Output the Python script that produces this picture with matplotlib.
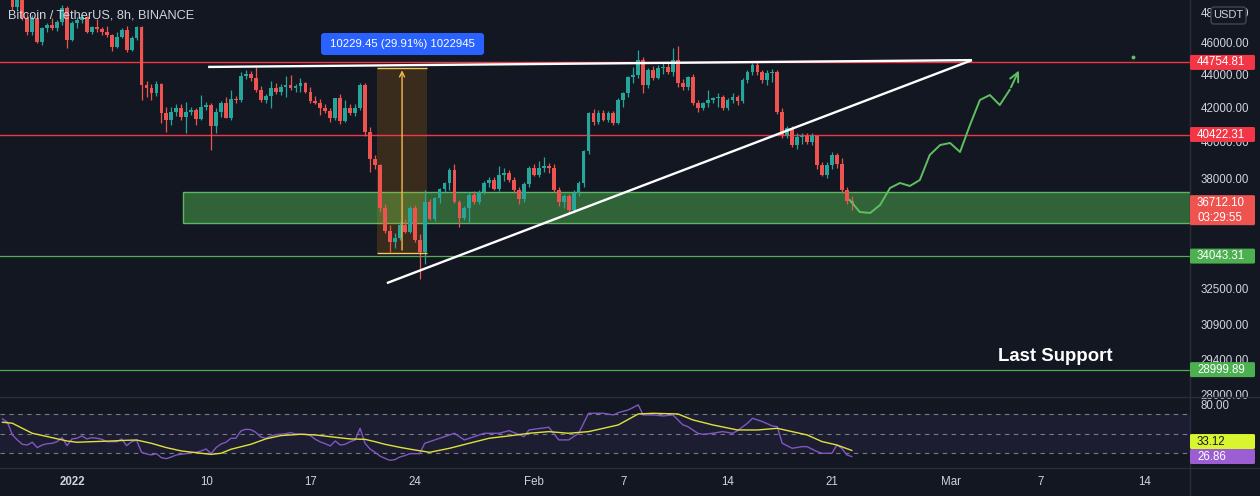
import matplotlib
matplotlib.use('Agg')
import matplotlib.pyplot as plt
from matplotlib.patches import Rectangle, FancyBboxPatch
from matplotlib.transforms import IdentityTransform
from matplotlib.ticker import NullLocator
import numpy as np

plt.rcParams['font.family'] = ['Liberation Sans', 'DejaVu Sans']

# ---- data: 8h candles, bar 0 = 2022-01-01 00:00 ----
first_bar = -14
opens = [50800, 51050, 50650, 48400, 49000, 47660, 46700, 47680, 46070, 47000, 47200, 47000, 47400, 48350,
         46200, 47330, 47530, 47700, 46720, 47070, 46900, 46700, 46530, 45750, 46400, 46860, 45550, 46350,
         47050, 43350, 43150, 42850, 43400, 41670, 41270, 41700, 41960, 41450, 41750, 41850, 41330, 42030,
         42120, 40920, 41750, 42260, 41400, 42500, 42420, 43880, 44050, 43800, 43050, 42420, 42670, 43180,
         42950, 43250, 43380, 43180, 43300, 43450, 42920, 42380, 42250, 41950, 41780, 41380, 42580, 41200,
         41980, 41650, 41980, 43330, 40580, 39050, 38700, 36450, 35250, 34730, 34930, 35580, 35230, 36430,
         34850, 34250, 36750, 35870, 36930, 37450, 37720, 38420, 36750, 35930, 36430, 37110, 36740, 37290,
         37740, 37890, 37440, 38150, 38270, 37890, 37380, 36900, 37700, 38530, 38150, 38580, 38680, 38550,
         37380, 36750, 37050, 36340, 37240, 37750, 39500, 41640, 41160, 41650, 41260, 41650, 41100, 42440,
         42850, 43820, 43960, 44910, 43350, 44280, 43780, 44400, 44480, 44180, 44910, 43480, 43230, 43840,
         42260, 41960, 42250, 42440, 42560, 42610, 41960, 42440, 42640, 42360, 43650, 44150, 44590, 44150,
         43650, 44100, 44160, 41700, 40400, 40800, 39830, 40280, 40360, 40010, 40360, 38720, 38180, 38720,
         39250, 38780, 37400, 36800]
highs = [51400, 51200, 50800, 49300, 49100, 47900, 47860, 47730, 47070, 47300, 47660, 47550, 48550, 48450,
         47450, 47700, 47950, 47800, 47150, 47600, 47050, 47100, 46600, 46700, 47000, 47100, 46450, 47150,
         47100, 43600, 43400, 43600, 43500, 42000, 42000, 42200, 42200, 42300, 42050, 41950, 42750, 42300,
         42250, 41950, 42400, 42600, 43050, 42700, 44150, 44300, 44200, 44450, 43300, 42800, 43600, 43500,
         43400, 43900, 43950, 43400, 43800, 43550, 43200, 42700, 42500, 42200, 41950, 42500, 42800, 42450,
         42200, 42200, 43500, 43500, 40850, 39250, 38800, 36650, 35550, 35150, 35750, 35850, 36550, 36600,
         35100, 37400, 36900, 37000, 37500, 37800, 38550, 38800, 36850, 36550, 37250, 37300, 37350, 37850,
         38050, 38050, 38650, 38550, 38450, 38050, 37550, 37800, 38650, 38750, 38950, 39150, 38850, 38750,
         37550, 37150, 37150, 37350, 37850, 39550, 41700, 41900, 41850, 41850, 41800, 41800, 42550, 42950,
         43900, 44450, 45550, 45100, 44400, 44500, 44600, 44700, 44700, 45700, 45820, 43700, 43900, 44000,
         42450, 42350, 43050, 42650, 42850, 42750, 42550, 42850, 42750, 43750, 44250, 44700, 44750, 44250,
         44250, 44350, 44250, 41950, 40900, 40900, 40500, 40500, 40500, 40500, 40400, 38900, 38900, 39450,
         39400, 39100, 37550, 37050]
lows = [50300, 50400, 48200, 48100, 47500, 46500, 46530, 46000, 45870, 46700, 46850, 46800, 47200, 45680,
        46100, 47000, 47300, 46650, 46600, 46700, 46500, 46400, 45500, 45650, 46300, 45400, 45500, 46200,
        42450, 42600, 42450, 42700, 41100, 40580, 40980, 41500, 41250, 40520, 41550, 40950, 41250, 41850,
        39550, 40500, 41450, 41350, 41250, 42250, 42350, 43700, 43600, 42950, 42300, 42250, 41950, 42800,
        42750, 42650, 43050, 42950, 42900, 42850, 42250, 42200, 41550, 41650, 41150, 41250, 41050, 41150,
        41550, 41500, 41850, 40350, 38350, 38500, 36250, 35150, 34250, 34450, 34850, 35150, 35150, 34750,
        32950, 33650, 35800, 35780, 36700, 37250, 37350, 36700, 35450, 35800, 35650, 36650, 36650, 37150,
        37550, 37350, 37300, 37850, 37800, 37250, 36650, 36750, 37550, 38100, 38050, 38350, 38300, 37250,
        36550, 36450, 36150, 36200, 37050, 37550, 39350, 40950, 41050, 41200, 41150, 40950, 41000, 42050,
        42650, 43500, 43750, 42850, 43150, 43650, 43700, 44000, 44000, 43900, 43250, 43050, 43050, 42150,
        41750, 41850, 42050, 42250, 42050, 41850, 41850, 42250, 42150, 42250, 43450, 43950, 43950, 43450,
        43350, 43550, 41600, 40200, 40200, 39700, 39600, 39900, 39900, 39800, 38500, 38100, 38000, 38500,
        38550, 37200, 36650, 36350]
closes = [51050, 50650, 48400, 49000, 47660, 46700, 47680, 46070, 47000, 47200, 47000, 47400, 48350, 46200,
          47330, 47530, 47700, 46720, 47070, 46900, 46700, 46530, 45750, 46400, 46860, 45550, 46350, 47050,
          43350, 43150, 42850, 43400, 41670, 41270, 41700, 41960, 41450, 41750, 41850, 41330, 42030, 42120,
          40920, 41750, 42260, 41400, 42500, 42420, 43880, 44050, 43800, 43050, 42420, 42670, 43180, 42950,
          43250, 43380, 43180, 43300, 43450, 42920, 42380, 42250, 41950, 41780, 41380, 42580, 41200, 41980,
          41650, 41980, 43330, 40580, 39050, 38700, 36450, 35250, 34730, 34930, 35580, 35230, 36430, 34850,
          34250, 36750, 35870, 36930, 37450, 37720, 38420, 36750, 35930, 36430, 37110, 36740, 37290, 37740,
          37890, 37440, 38150, 38270, 37890, 37380, 36900, 37700, 38530, 38150, 38580, 38680, 38550, 37380,
          36750, 37050, 36340, 37240, 37750, 39500, 41640, 41160, 41650, 41260, 41650, 41100, 42440, 42850,
          43820, 43960, 44910, 43350, 44280, 43780, 44400, 44480, 44180, 44910, 43480, 43230, 43840, 42260,
          41960, 42250, 42440, 42560, 42610, 41960, 42440, 42640, 42360, 43650, 44150, 44590, 44150, 43650,
          44100, 44160, 41700, 40400, 40800, 39830, 40280, 40360, 40010, 40360, 38720, 38180, 38720, 39250,
          38780, 37400, 36800, 36712.10]

# RSI(14) and its moving average, read at bar positions
rsi_bar = [-14, -13, -12, -11, -10, -9, -8, -7, -6, -5, -4, -3, -2, -1, 0, 1, 2, 3, 4, 5, 6, 7, 8, 9, 10,
           11, 12, 13, 14, 15, 16, 17, 18, 19, 20, 21, 22, 23, 24, 25, 26, 27, 28, 29, 30, 31, 32, 33, 34,
           35, 36, 37, 38, 39, 40, 41, 42, 43, 44, 45, 46, 47, 48, 49, 50, 51, 52, 53, 54, 55, 56, 57, 58,
           59, 60, 61, 62, 63, 64, 65, 66, 67, 68, 69, 70, 71, 72, 74, 77, 79, 81, 83, 86, 88, 91, 92, 96,
           98, 100, 102, 104, 107, 109, 110, 112, 114, 115, 117, 119, 121, 123, 124, 126, 127, 129, 131,
           133, 134, 136, 137, 139, 141, 142, 143, 145, 147, 148, 150, 151, 153, 154, 155, 156, 157]
rsi_val = [65.4, 62.0, 49.0, 43.8, 39.4, 38.7, 41.5, 36.0, 38.7, 40.0, 40.4, 42.1, 46.2, 38.0, 44.9, 45.6,
           48.0, 44.9, 46.2, 45.6, 44.5, 42.1, 42.1, 42.1, 44.9, 38.0, 42.1, 43.5, 31.2, 29.5, 28.5, 29.8,
           25.7, 24.7, 26.4, 28.5, 29.1, 29.8, 30.9, 31.2, 32.6, 34.6, 29.8, 36.0, 39.7, 41.5, 45.6, 45.6,
           53.1, 54.8, 54.4, 51.7, 46.9, 45.6, 47.6, 49.3, 49.7, 50.3, 51.4, 50.0, 49.7, 49.7, 48.3, 44.5,
           41.8, 40.0, 37.7, 42.8, 38.7, 39.4, 42.1, 43.8, 55.8, 40.4, 34.6, 31.2, 27.4, 25.0, 23.0, 23.7,
           26.4, 27.8, 29.8, 29.8, 29.8, 40.4, 42.1, 45.6, 50.7, 43.9, 47.3, 50.7, 50.7, 53.4, 47.3, 54.1,
           56.9, 43.9, 43.9, 50.7, 71.2, 71.2, 69.5, 71.9, 74.6, 79.8, 69.5, 69.5, 68.5, 69.5, 59.3, 57.5,
           50.7, 49.7, 50.7, 52.4, 50.7, 53.4, 61.0, 66.1, 62.7, 58.2, 57.5, 40.5, 35.3, 37.0, 37.0, 31.9,
           30.2, 30.2, 38.7, 35.3, 28.5, 26.86]
ma_bar = [-14, -12, -10, -8, -4, -1, 1, 4, 8, 11, 13, 16, 19, 22, 26, 28, 30, 32, 36, 39, 42, 46, 49, 53,
          56, 59, 61, 63, 66, 69, 72, 76, 80, 84, 88, 92, 96, 100, 104, 107, 110, 114, 117, 122, 125, 129,
          134, 138, 142, 145, 148, 151, 154, 157]
ma_val = [62.0, 61.0, 55.8, 50.7, 46.2, 42.8, 41.5, 42.1, 42.8, 43.5, 43.8, 40.4, 36.0, 32.6, 30.2, 29.1,
          30.2, 34.3, 39.4, 44.9, 48.3, 49.7, 49.0, 46.6, 44.9, 44.5, 42.1, 39.4, 36.3, 33.6, 31.2, 35.3,
          40.5, 45.6, 48.0, 50.7, 52.4, 50.7, 52.4, 55.8, 59.3, 70.5, 71.2, 70.5, 64.4, 59.3, 54.1, 54.1,
          55.8, 52.4, 49.0, 42.2, 38.7, 33.12]

# drawings
red_levels = [44754.81, 40422.31]
green_levels = [34043.31, 28999.89]
zone_start, zone_lo, zone_hi = 22.3, 35690, 37290
trend_top = ([27.4, 181.2], [44470, 44900])
trend_rise = ([63.4, 181.2], [32770, 44900])
range_bars, range_lo, range_hi = (61.4, 71.5), 34200, 44430
path_bar = [156.6, 158.6, 160.7, 162.7, 164.7, 166.7, 168.7, 170.7, 172.7, 174.8, 176.8, 178.8, 180.8,
            182.8, 184.8, 186.8, 188.8, 190.9]
path_px = [36851, 36233, 36182, 36592, 37481, 37747, 37588, 37907, 39270, 39828, 39941, 39437, 40969,
           42442, 42742, 42143, 43054, 44404]
stray_mark = (213.6, 45100)

tick_bars = [0, 27, 48, 69, 93, 111, 132, 153, 177, 195, 216]
tick_text = ['2022', '10', '17', '24', 'Feb', '7', '14', '21', 'Mar', '7', '14']
price_ticks = [28000, 29400, 30900, 32500, 38000, 40000, 42000, 44000, 46000, 48000]

BG = '#131722'
UP, DN = '#26a69a', '#ef5350'
RED, GREEN = '#f23645', '#4caf50'
TXT = '#d1d4dc'
GRIDC = '#2a2e39'

W, H = 1260, 496
fig = plt.figure(figsize=(W / 100, H / 100), dpi=100, facecolor=BG)
ax = fig.add_axes([0, (H - 397) / H, 1190 / W, 397 / H], facecolor=BG)
rx = fig.add_axes([0, (H - 468) / H, 1190 / W, 71 / H], facecolor=BG, sharex=ax)

bars = np.arange(first_bar, first_bar + len(closes))
o, hi, lo, c = map(np.array, (opens, highs, lows, closes))
col = np.where(c >= o, UP, DN)

ax.set_yscale('log')
ax.set_ylim(27900, 48880)
ax.set_xlim(-14.5, 225.1)

ax.add_patch(Rectangle((zone_start, zone_lo), 400, zone_hi - zone_lo, facecolor=(0.30, 0.69, 0.31, 0.5),
                       edgecolor='#5cb860', lw=1, zorder=1))
ax.add_patch(Rectangle((range_bars[0], range_lo), range_bars[1] - range_bars[0], range_hi - range_lo,
                       facecolor='#ff9800', alpha=0.17, lw=0, zorder=1))
for v in red_levels:
    ax.axhline(v, color=RED, lw=1, zorder=2)
for v in green_levels:
    ax.axhline(v, color=GREEN, lw=0.9, zorder=2)

ax.vlines(bars, lo, hi, colors=col, lw=0.9, zorder=3)
ax.bar(bars, np.abs(c - o), bottom=np.minimum(o, c), width=0.76, color=col, lw=0, zorder=3)

ax.plot(trend_top[0], trend_top[1], color='white', lw=1.7, zorder=4, solid_capstyle='butt')
ax.plot(trend_rise[0], trend_rise[1], color='white', lw=1.7, zorder=4, solid_capstyle='butt')

mid = sum(range_bars) / 2
ax.hlines([range_lo, range_hi], range_bars[0], range_bars[1], color='#f7c65c', lw=1, zorder=4)
ax.annotate('', xy=(mid, range_hi), xytext=(mid, range_lo),
            arrowprops=dict(arrowstyle='->', color='#f7b84b', lw=1, mutation_scale=9), zorder=4)

ax.plot(path_bar[:-1], path_px[:-1], color='#5fbf61', lw=1.4, zorder=4)
ax.annotate('', xy=(path_bar[-1], path_px[-1]), xytext=(path_bar[-2], path_px[-2]),
            arrowprops=dict(arrowstyle='->', color='#5fbf61', lw=1.4, mutation_scale=16), zorder=4)
ax.plot(*stray_mark, marker='o', ms=1.8, color='#5fbf61', zorder=4)

ax.text(186.4, 29522, 'Last Support', color='white', fontsize=13.4, fontweight='bold',
        ha='left', va='center', zorder=5)

# RSI pane
rx.set_ylim(15.1, 87.9)
rx.fill_between([-14.5, 225.1], 30, 70, color='#7e57c2', alpha=0.1, lw=0)
for lv in (70, 50, 30):
    rx.axhline(lv, color='#787b86', lw=0.8, ls=(0, (4, 4)))
rx.plot(rsi_bar, rsi_val, color='#7e57c2', lw=1)
rx.plot(ma_bar, ma_val, color='#dfe23a', lw=1)

for a in (ax, rx):
    for s in a.spines.values():
        s.set_visible(False)
    a.yaxis.tick_right()
    a.tick_params(axis='y', length=0, pad=7.5, labelsize=8.3, labelcolor=TXT)
    a.yaxis.set_minor_locator(NullLocator())
ax.set_yticks(price_ticks)
ax.set_yticklabels([f'{v:.2f}' for v in price_ticks])
ax.tick_params(axis='x', bottom=False, labelbottom=False)
rx.set_yticks([80])
rx.set_yticklabels(['80.00'])
rx.set_xticks(tick_bars)
rx.set_xticklabels(tick_text)
rx.tick_params(axis='x', length=0, pad=6, labelsize=8.3, labelcolor=TXT)
rx.get_xticklabels()[0].set_fontweight('bold')

ident = IdentityTransform()

def box(x0, y0, w, h, fc, ec='none', r=2):
    fig.patches.append(FancyBboxPatch((x0, y0), w, h, boxstyle=f'round,pad=0,rounding_size={r}',
                                      fc=fc, ec=ec, lw=1, transform=ident, zorder=10))

def tag(a, val, lines, fc, fg='white', shift=0):
    y = a.transData.transform((0, val))[1] + shift
    h = 15 * len(lines)
    box(1190, y + 7.5 - h, 65, h, fc, r=1.5)
    for i, t in enumerate(lines):
        fig.text(1197 / W, (y - 15 * i) / H, t, color=fg, fontsize=8.3, va='center', ha='left', zorder=11)

fig.canvas.draw()
tag(ax, red_levels[0], ['44754.81'], RED)
tag(ax, red_levels[1], ['40422.31'], RED)
tag(ax, closes[-1], ['36712.10', '03:29:55'], DN)
tag(ax, green_levels[0], ['34043.31'], GREEN)
tag(ax, green_levels[1], ['28999.89'], GREEN)
tag(rx, rsi_val[-1], ['26.86'], '#9c5fd3')
tag(rx, rsi_val[-1], ['33.12'], '#d9f52f', fg='#131722', shift=15)

# currency button over top label
box(1211, H - 24, 35, 17, BG, ec='#434651', r=3)
fig.text(1228.5 / W, (H - 15.5) / H, 'USDT', color=TXT, fontsize=8, ha='center', va='center', zorder=11)

# measure label
mx = ax.transData.transform((mid, range_hi))
box(mx[0] - 81, H - 55, 163, 22, '#2962ff', r=3)
fig.text(mx[0] / W, (H - 44) / H, '10229.45 (29.91%) 1022945', color='white', fontsize=8.2,
         ha='center', va='center', zorder=11)

fig.text(8 / W, (H - 16) / H, 'Bitcoin / TetherUS, 8h, BINANCE', color=TXT, fontsize=9.2,
         ha='left', va='center')

# pane separators
for yy in (397, 468):
    fig.add_artist(plt.Line2D([0, W], [H - yy, H - yy], transform=ident, color=GRIDC, lw=1))
fig.add_artist(plt.Line2D([1190, 1190], [0, H], transform=ident, color=GRIDC, lw=1))

fig.savefig('out.png', dpi=100, facecolor=BG)
